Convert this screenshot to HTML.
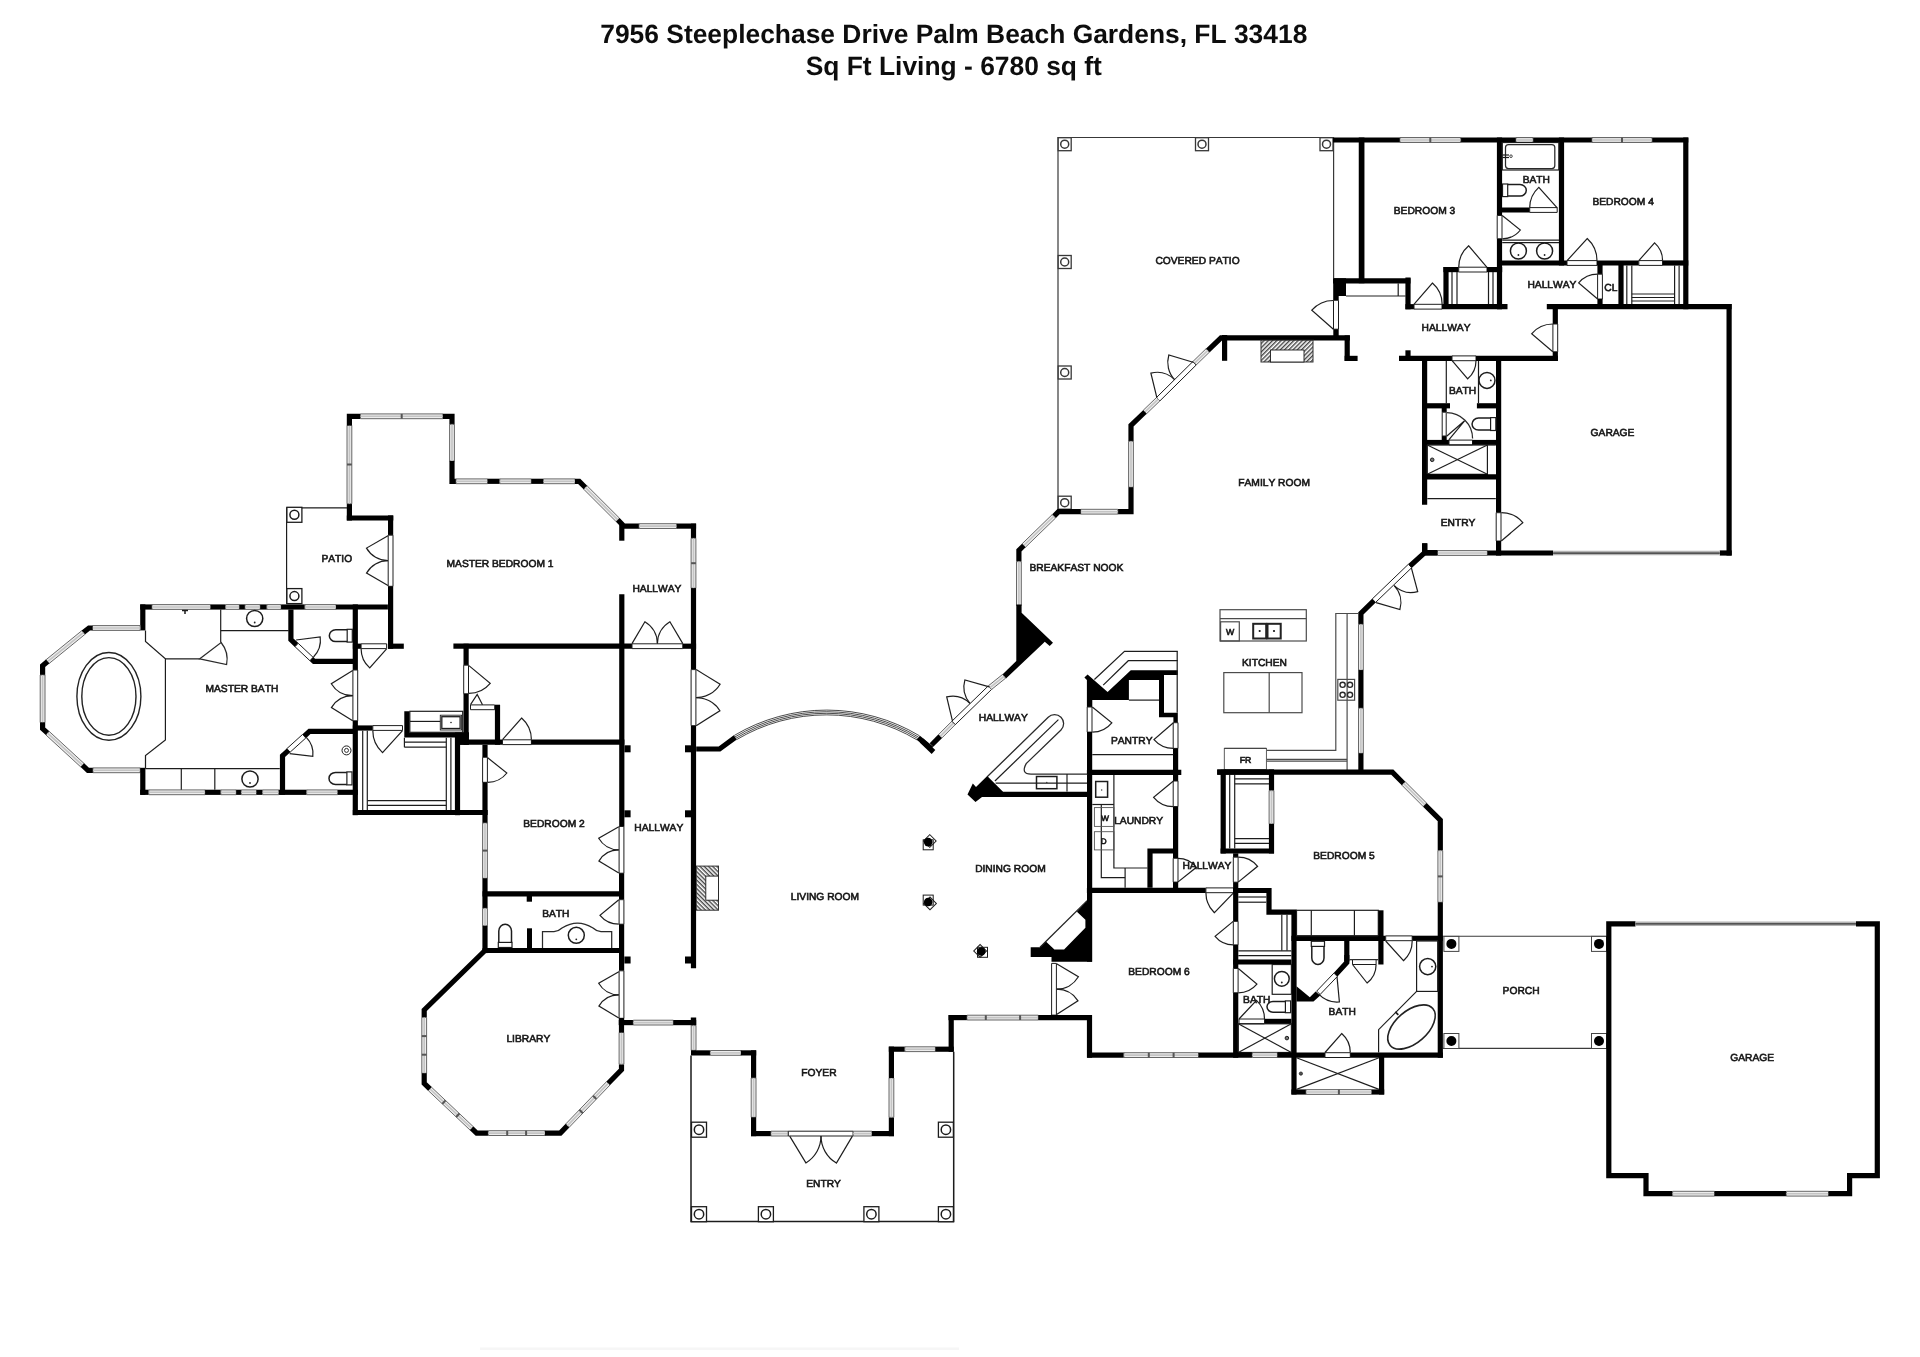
<!DOCTYPE html>
<html><head><meta charset="utf-8"><title>Floor plan</title>
<style>
html,body{margin:0;padding:0;background:#fff;}
body{width:1920px;height:1357px;overflow:hidden;font-family:"Liberation Sans",sans-serif;}
svg{display:block;}
svg text{font-family:"Liberation Sans",sans-serif;fill:#161616;stroke:#161616;stroke-width:0.6px;font-kerning:none;text-rendering:geometricPrecision;}
.w{fill:none;stroke:#000;stroke-linecap:butt;stroke-linejoin:miter;stroke-miterlimit:6;}
.t{fill:none;}
.title{font-weight:bold;stroke:none;fill:#111;}
</style></head><body>
<svg width="1920" height="1357" viewBox="0 0 1920 1357">
<defs>
<pattern id="h1" width="3" height="3" patternUnits="userSpaceOnUse" patternTransform="rotate(-45)"><rect width="3" height="3" fill="#fff"/><rect width="3" height="1.4" fill="#444"/></pattern>
<pattern id="h2" width="3" height="3" patternUnits="userSpaceOnUse" patternTransform="rotate(45)"><rect width="3" height="3" fill="#fff"/><rect width="3" height="1.4" fill="#444"/></pattern>
<filter id="nf" filterUnits="userSpaceOnUse" x="0" y="0" width="1920" height="1357"><feGaussianBlur stdDeviation="0.35"/></filter>
</defs>
<rect width="1920" height="1357" fill="#fff"/>
<g filter="url(#nf)">
<text class="title" x="953.8" y="43.2" font-size="26.4" text-anchor="middle">7956 Steeplechase Drive Palm Beach Gardens, FL 33418</text>
<text class="title" x="953.8" y="75.1" font-size="26.4" text-anchor="middle">Sq Ft Living - 6780 sq ft</text>
<rect x="480" y="1347.5" width="479" height="2.5" fill="#f6f6f6"/>
<polyline class="t" points="1333,137.5 1058,137.5 1058,509" stroke="#383838" stroke-width="1.2"/>
<polyline class="t" points="1333.6,137.5 1333.6,278" stroke="#383838" stroke-width="1.2"/>
<rect x="1058.2" y="137.7" width="13" height="13" fill="#fff" stroke="#383838" stroke-width="1.3"/>
<circle cx="1064.7" cy="144.2" r="4" fill="none" stroke="#383838" stroke-width="1.5"/>
<rect x="1195.5" y="137.7" width="13" height="13" fill="#fff" stroke="#383838" stroke-width="1.3"/>
<circle cx="1202" cy="144.2" r="4" fill="none" stroke="#383838" stroke-width="1.5"/>
<rect x="1320" y="137.7" width="13" height="13" fill="#fff" stroke="#383838" stroke-width="1.3"/>
<circle cx="1326.5" cy="144.2" r="4" fill="none" stroke="#383838" stroke-width="1.5"/>
<rect x="1058.2" y="255.5" width="13" height="13" fill="#fff" stroke="#383838" stroke-width="1.3"/>
<circle cx="1064.7" cy="262" r="4" fill="none" stroke="#383838" stroke-width="1.5"/>
<rect x="1058.2" y="366" width="13" height="13" fill="#fff" stroke="#383838" stroke-width="1.3"/>
<circle cx="1064.7" cy="372.5" r="4" fill="none" stroke="#383838" stroke-width="1.5"/>
<rect x="1058.2" y="496.2" width="13" height="13" fill="#fff" stroke="#383838" stroke-width="1.3"/>
<circle cx="1064.7" cy="502.7" r="4" fill="none" stroke="#383838" stroke-width="1.5"/>
<text transform="translate(1197.5 263.9) scale(1.005 1)" font-size="10.2" text-anchor="middle">COVERED PATIO</text>
<polyline class="w" points="1333,140 1688.3,140" stroke-width="5.2"/>
<polygon points="1400,142.4 1460.7,142.4 1460.7,137.6 1400,137.6" fill="#ececec" stroke="#585858" stroke-width="0.9"/>
<line x1="1400" y1="140" x2="1460.7" y2="140" stroke="#c4c4c4" stroke-width="1.6"/>
<polygon points="1429.3,142.4 1431.3,142.4 1431.3,137.6 1429.3,137.6" fill="#555"/>
<polygon points="1516,142.4 1533,142.4 1533,137.6 1516,137.6" fill="#ececec" stroke="#585858" stroke-width="0.9"/>
<line x1="1516" y1="140" x2="1533" y2="140" stroke="#c4c4c4" stroke-width="1.6"/>
<polygon points="1592,142.4 1652,142.4 1652,137.6 1592,137.6" fill="#ececec" stroke="#585858" stroke-width="0.9"/>
<line x1="1592" y1="140" x2="1652" y2="140" stroke="#c4c4c4" stroke-width="1.6"/>
<polygon points="1621,142.4 1623,142.4 1623,137.6 1621,137.6" fill="#555"/>
<polyline class="w" points="1361.6,137.5 1361.6,283.3" stroke-width="5.7"/>
<polyline class="w" points="1333,280.8 1410.5,280.8" stroke-width="5.2"/>
<polygon points="1333.2,278.2 1346,278.2 1346,296 1338.7,296 1338.7,300.3 1333.2,300.3" fill="#000"/>
<polyline class="t" points="1346,296 1405.5,296" stroke="#1e1e1e" stroke-width="1.2"/>
<polyline class="t" points="1398.2,283.2 1398.2,296" stroke="#1e1e1e" stroke-width="1.2"/>
<polyline class="w" points="1408,277.5 1408,309.3" stroke-width="5.2"/>
<polygon points="1333.5,300.3 1333.5,329.2 1338.5,329.2 1338.5,300.3" fill="#fff" stroke="#1e1e1e" stroke-width="1"/>
<path class="t" d="M1333.4 329.3L1311.8 310.2A28.8 28.8 0 0 1 1333.4 300.5" stroke="#1e1e1e" stroke-width="1.2"/>
<polyline class="w" points="1336,329.2 1336,340" stroke-width="5.4"/>
<polyline class="w" points="1349.9,337.9 1221,337.9 1207.7,350.7" stroke-width="5.2"/>
<polygon points="1206,348.8 1192.8,361.6 1196.2,365 1209.4,352.2" fill="#ececec" stroke="#585858" stroke-width="0.9"/>
<line x1="1207.7" y1="350.5" x2="1194.5" y2="363.3" stroke="#c4c4c4" stroke-width="1.6"/>
<polygon points="1192.8,361.6 1156.5,397.5 1159.9,400.9 1196.2,365" fill="#fff" stroke="#1e1e1e" stroke-width="1"/>
<polygon points="1156.5,397.5 1143.2,410.3 1146.6,413.7 1159.9,400.9" fill="#ececec" stroke="#585858" stroke-width="0.9"/>
<line x1="1158.2" y1="399.2" x2="1144.9" y2="412" stroke="#c4c4c4" stroke-width="1.6"/>
<polyline class="w" points="1144.9,412 1131,425.4 1131,441.3" stroke-width="5.2"/>
<polygon points="1128.6,441.3 1128.6,487.2 1133.4,487.2 1133.4,441.3" fill="#ececec" stroke="#585858" stroke-width="0.9"/>
<line x1="1131" y1="441.3" x2="1131" y2="487.2" stroke="#c4c4c4" stroke-width="1.6"/>
<polyline class="w" points="1131,487.2 1131,511.7 1117.8,511.7" stroke-width="5.2"/>
<polygon points="1080.7,514.1 1117.8,514.1 1117.8,509.3 1080.7,509.3" fill="#ececec" stroke="#585858" stroke-width="0.9"/>
<line x1="1080.7" y1="511.7" x2="1117.8" y2="511.7" stroke="#c4c4c4" stroke-width="1.6"/>
<polyline class="w" points="1080.7,511.7 1058.5,511.7 1053.9,516.3" stroke-width="5.2"/>
<polygon points="1052.2,514.6 1022.1,543.8 1025.5,547.2 1055.6,518" fill="#ececec" stroke="#585858" stroke-width="0.9"/>
<line x1="1053.9" y1="516.3" x2="1023.8" y2="545.5" stroke="#c4c4c4" stroke-width="1.6"/>
<polyline class="w" points="1023.8,545.5 1018.9,550.3 1018.9,561.6" stroke-width="5.2"/>
<polygon points="1016.5,561.6 1016.5,605.5 1021.3,605.5 1021.3,561.6" fill="#ececec" stroke="#585858" stroke-width="0.9"/>
<line x1="1018.9" y1="561.6" x2="1018.9" y2="605.5" stroke="#c4c4c4" stroke-width="1.6"/>
<path class="t" d="M1156.9 397.8L1150.9 373.1A25.4 25.4 0 0 1 1174.6 379.6" stroke="#1e1e1e" stroke-width="1.2"/>
<path class="t" d="M1193.1 362.3L1168.8 355A25.3 25.3 0 0 0 1174.6 379.6" stroke="#1e1e1e" stroke-width="1.2"/>
<polyline class="w" points="1347.2,335.4 1347.2,360.9" stroke-width="5.2"/>
<polyline class="w" points="1344.6,358.4 1357.6,358.4" stroke-width="5.2"/>
<polyline class="w" points="1224.6,335 1224.6,360.8" stroke-width="5.2"/>
<rect x="1261" y="340.2" width="52" height="21.8" fill="url(#h1)" stroke="#333" stroke-width="1"/>
<rect x="1270.5" y="350" width="33.5" height="12" fill="#fff" stroke="#1e1e1e" stroke-width="0.9"/>
<polygon points="1016.3,604.4 1021.6,604.4 1021.6,612.8 1053,642.7 1049.7,646.1 1044.8,641.8 1006,678.4 1002.2,674.7 1016.3,660.9" fill="#000"/>
<polyline class="w" points="1405.4,306.7 1414,306.7" stroke-width="5.2"/>
<polygon points="1414,309.1 1442,309.1 1442,304.3 1414,304.3" fill="#fff" stroke="#1e1e1e" stroke-width="1"/>
<polyline class="w" points="1442,306.7 1507.5,306.7" stroke-width="5.2"/>
<path class="t" d="M1413.9 304.4L1432.4 283A28.3 28.3 0 0 1 1442.2 304.4" stroke="#1e1e1e" stroke-width="1.2"/>
<polyline class="w" points="1446,267 1446,306.7" stroke-width="5.2"/>
<polyline class="w" points="1443.4,269.6 1458.7,269.6" stroke-width="5.2"/>
<polygon points="1458.7,272 1487,272 1487,267.2 1458.7,267.2" fill="#fff" stroke="#1e1e1e" stroke-width="1"/>
<polyline class="w" points="1487,269.6 1502.2,269.6" stroke-width="5.2"/>
<path class="t" d="M1487 267.4L1468.7 245.8A28.3 28.3 0 0 0 1458.7 267.4" stroke="#1e1e1e" stroke-width="1.2"/>
<polyline class="t" points="1452,272 1452,304.2" stroke="#1e1e1e" stroke-width="1.2"/>
<polyline class="t" points="1457,272 1457,304.2" stroke="#1e1e1e" stroke-width="1.2"/>
<polyline class="t" points="1488.5,272 1488.5,304.2" stroke="#1e1e1e" stroke-width="1.2"/>
<polyline class="t" points="1493,272 1493,304.2" stroke="#1e1e1e" stroke-width="1.2"/>
<polyline class="w" points="1499.5,137.5 1499.5,215.5" stroke-width="5.2"/>
<polygon points="1497.2,215.5 1497.2,238.8 1502,238.8 1502,215.5" fill="#fff" stroke="#1e1e1e" stroke-width="1"/>
<polyline class="w" points="1499.5,238.8 1499.5,309.3" stroke-width="5.2"/>
<path class="t" d="M1502.2 215.5L1520.4 230A23.3 23.3 0 0 1 1502.2 238.8" stroke="#1e1e1e" stroke-width="1.2"/>
<polyline class="w" points="1561.5,137.5 1561.5,265.5" stroke-width="5.2"/>
<polyline class="w" points="1685.8,137.5 1685.8,309.3" stroke-width="5.2"/>
<polyline class="w" points="1497,210 1529.7,210" stroke-width="5.2"/>
<polygon points="1529.7,212.4 1557.2,212.4 1557.2,207.6 1529.7,207.6" fill="#fff" stroke="#1e1e1e" stroke-width="1"/>
<path class="t" d="M1557.2 207.8L1538.8 187.4A27.5 27.5 0 0 0 1529.7 207.8" stroke="#1e1e1e" stroke-width="1.2"/>
<rect x="1502.3" y="142.5" width="56.5" height="27.5" fill="none" stroke="#1e1e1e" stroke-width="1.2"/>
<rect x="1505.5" y="144.5" width="49.3" height="24" rx="3" fill="none" stroke="#2a2a2a" stroke-width="1.25"/>
<circle cx="1511" cy="156.2" r="1.3" fill="none" stroke="#1e1e1e" stroke-width="0.8"/>
<polyline class="t" points="1502.5,155 1509,155" stroke="#1e1e1e" stroke-width="1.2"/>
<polyline class="t" points="1502.5,157.5 1509,157.5" stroke="#1e1e1e" stroke-width="1.2"/>
<text transform="translate(1536.3 183.2) scale(1.005 1)" font-size="10.2" text-anchor="middle">BATH</text>
<rect x="1502.5" y="184" width="5.2" height="12.6" fill="none" stroke="#1e1e1e" stroke-width="1.2"/>
<path class="t" d="M1507.7 184.5H1520A6.3 5.8 0 0 1 1520 196.1H1507.7" stroke="#1e1e1e" stroke-width="1.5"/>
<polyline class="t" points="1502.2,240.2 1559,240.2" stroke="#1e1e1e" stroke-width="1.2"/>
<polyline class="t" points="1502.2,242.6 1559,242.6" stroke="#1e1e1e" stroke-width="1.2"/>
<circle cx="1518.4" cy="251" r="8" fill="none" stroke="#1e1e1e" stroke-width="1.5"/>
<circle cx="1518.4" cy="255" r="0.9" fill="#222" stroke="#1e1e1e" stroke-width="0"/>
<circle cx="1544.6" cy="251" r="8" fill="none" stroke="#1e1e1e" stroke-width="1.5"/>
<circle cx="1544.6" cy="255" r="0.9" fill="#222" stroke="#1e1e1e" stroke-width="0"/>
<polyline class="w" points="1497,263 1567,263" stroke-width="5.2"/>
<polygon points="1567,265.4 1597,265.4 1597,260.6 1567,260.6" fill="#fff" stroke="#1e1e1e" stroke-width="1"/>
<polyline class="w" points="1597,263 1638.8,263" stroke-width="5.2"/>
<polygon points="1638.8,265.4 1662.6,265.4 1662.6,260.6 1638.8,260.6" fill="#fff" stroke="#1e1e1e" stroke-width="1"/>
<polyline class="w" points="1662.6,263 1688.3,263" stroke-width="5.2"/>
<path class="t" d="M1567.1 260.7L1587.2 238.5A29.9 29.9 0 0 1 1597 260.7" stroke="#1e1e1e" stroke-width="1.2"/>
<path class="t" d="M1638.8 260.7L1654.6 242.9A23.8 23.8 0 0 1 1662.6 260.7" stroke="#1e1e1e" stroke-width="1.2"/>
<text transform="translate(1623.1 205) scale(1.005 1)" font-size="10.2" text-anchor="middle">BEDROOM 4</text>
<text transform="translate(1424.5 213.9) scale(1.005 1)" font-size="10.2" text-anchor="middle">BEDROOM 3</text>
<polyline class="w" points="1600,263 1600,274.2" stroke-width="5.2"/>
<polygon points="1597.6,274.2 1597.6,299 1602.4,299 1602.4,274.2" fill="#fff" stroke="#1e1e1e" stroke-width="1"/>
<polyline class="w" points="1600,299 1600,306.7" stroke-width="5.2"/>
<path class="t" d="M1597.6 299L1578.7 282.9A24.8 24.8 0 0 1 1597.6 274.2" stroke="#1e1e1e" stroke-width="1.2"/>
<polyline class="w" points="1621,263 1621,306.7" stroke-width="5.2"/>
<text transform="translate(1551.9 288.1) scale(1.005 1)" font-size="10.2" text-anchor="middle">HALLWAY</text>
<text transform="translate(1610.9 291.4) scale(1.005 1)" font-size="10.2" text-anchor="middle">CL</text>
<polyline class="t" points="1626.8,265.5 1626.8,304.2" stroke="#1e1e1e" stroke-width="1.2"/>
<polyline class="t" points="1631.8,265.5 1631.8,304.2" stroke="#1e1e1e" stroke-width="1.2"/>
<polyline class="t" points="1674.6,265.5 1674.6,304.2" stroke="#1e1e1e" stroke-width="1.2"/>
<polyline class="t" points="1679.1,265.5 1679.1,304.2" stroke="#1e1e1e" stroke-width="1.2"/>
<polyline class="t" points="1631.8,294 1674.6,294" stroke="#1e1e1e" stroke-width="1.2"/>
<polyline class="t" points="1631.8,297.5 1674.6,297.5" stroke="#1e1e1e" stroke-width="1.2"/>
<polyline class="t" points="1631.8,301 1674.6,301" stroke="#1e1e1e" stroke-width="1.2"/>
<polyline class="w" points="1546.8,306.7 1731.6,306.7" stroke-width="5.2"/>
<polyline class="w" points="1729.1,304.1 1729.1,555.6" stroke-width="5.2"/>
<polyline class="w" points="1555.3,304.1 1555.3,324" stroke-width="5.2"/>
<polygon points="1552.9,324 1552.9,351.8 1557.7,351.8 1557.7,324" fill="#fff" stroke="#1e1e1e" stroke-width="1"/>
<polyline class="w" points="1555.3,351.8 1555.3,360.9" stroke-width="5.2"/>
<path class="t" d="M1552.8 351.8L1531.6 333.8A27.8 27.8 0 0 1 1552.8 324" stroke="#1e1e1e" stroke-width="1.2"/>
<polyline class="w" points="1399,358.3 1452,358.3" stroke-width="5.2"/>
<polygon points="1452,360.7 1476,360.7 1476,355.9 1452,355.9" fill="#fff" stroke="#1e1e1e" stroke-width="1"/>
<polyline class="w" points="1476,358.3 1557.9,358.3" stroke-width="5.2"/>
<polyline class="w" points="1408,350.3 1408,358.3" stroke-width="5.2"/>
<path class="t" d="M1452.1 360.7L1467.7 378.8A23.9 23.9 0 0 0 1476 360.7" stroke="#1e1e1e" stroke-width="1.2"/>
<text transform="translate(1446 331.3) scale(1.005 1)" font-size="10.2" text-anchor="middle">HALLWAY</text>
<polyline class="w" points="1424.6,358 1424.6,504.8" stroke-width="5.2"/>
<polyline class="w" points="1498.6,358 1498.6,512.7" stroke-width="5.2"/>
<polygon points="1496.2,512.7 1496.2,541 1501,541 1501,512.7" fill="#fff" stroke="#1e1e1e" stroke-width="1"/>
<polyline class="w" points="1498.6,541 1498.6,555.6" stroke-width="5.2"/>
<path class="t" d="M1501.3 541L1522.8 522.6A28.3 28.3 0 0 0 1501.3 512.7" stroke="#1e1e1e" stroke-width="1.2"/>
<polyline class="w" points="1424.6,405.8 1450,405.8" stroke-width="5.2"/>
<polyline class="w" points="1476.9,405.8 1498.6,405.8" stroke-width="5.2"/>
<polyline class="t" points="1446.3,361 1446.3,403.3" stroke="#1e1e1e" stroke-width="1.2"/>
<polyline class="t" points="1478.5,361 1478.5,403.3" stroke="#1e1e1e" stroke-width="1.2"/>
<circle cx="1487" cy="380.4" r="8" fill="none" stroke="#1e1e1e" stroke-width="1.5"/>
<circle cx="1490.8" cy="380.4" r="0.9" fill="#222" stroke="#1e1e1e" stroke-width="0"/>
<text transform="translate(1462.6 393.7) scale(1.005 1)" font-size="10.2" text-anchor="middle">BATH</text>
<polygon points="1441.7,408 1446.7,408 1446.7,412.2 1441.7,412.2" fill="#000"/>
<polygon points="1441.7,436 1446.7,436 1446.7,440.5 1441.7,440.5" fill="#000"/>
<polygon points="1442.2,412.2 1442.2,436 1446.2,436 1446.2,412.2" fill="#fff" stroke="#1e1e1e" stroke-width="1"/>
<path class="t" d="M1446.7 412.6A26 26 0 0 1 1472.6 438.5" stroke="#2a2a2a" stroke-width="1.25"/>
<polyline class="t" points="1446.6,436.2 1464.6,420.8 1448.8,439.8" stroke="#1e1e1e" stroke-width="1.2"/>
<polyline class="w" points="1424.6,442.5 1449,442.5" stroke-width="5.2"/>
<polygon points="1449,444.9 1472.5,444.9 1472.5,440.1 1449,440.1" fill="#fff" stroke="#1e1e1e" stroke-width="1"/>
<polyline class="w" points="1472.5,442.5 1498.6,442.5" stroke-width="5.2"/>
<rect x="1490.6" y="417.6" width="5.2" height="12.9" fill="none" stroke="#1e1e1e" stroke-width="1.2"/>
<path class="t" d="M1490.6 418.1H1478.5A6.4 5.9 0 0 0 1478.5 430H1490.6" stroke="#1e1e1e" stroke-width="1.5"/>
<rect x="1427.3" y="445" width="60.1" height="29.3" fill="none" stroke="#1e1e1e" stroke-width="1.2"/>
<polyline class="t" points="1427.3,445 1487.4,474.3" stroke="#1e1e1e" stroke-width="1.2"/>
<polyline class="t" points="1427.3,474.3 1487.4,445" stroke="#1e1e1e" stroke-width="1.2"/>
<circle cx="1432.2" cy="459.8" r="1.8" fill="#777" stroke="#1e1e1e" stroke-width="1"/>
<polyline class="t" points="1487.4,445 1495.8,445" stroke="#1e1e1e" stroke-width="1.2"/>
<polyline class="w" points="1424.6,476.9 1498.6,476.9" stroke-width="5.2"/>
<polyline class="t" points="1427.3,498.6 1495.8,498.6" stroke="#1e1e1e" stroke-width="1.2"/>
<text transform="translate(1458.1 525.9) scale(1.005 1)" font-size="10.2" text-anchor="middle">ENTRY</text>
<text transform="translate(1612.5 435.9) scale(1.005 1)" font-size="10.2" text-anchor="middle">GARAGE</text>
<polyline class="w" points="1424.6,543.3 1424.6,553" stroke-width="5.2"/>
<polyline class="w" points="1422,553 1437.5,553" stroke-width="5.2"/>
<polygon points="1437.5,555.4 1487.4,555.4 1487.4,550.6 1437.5,550.6" fill="#ececec" stroke="#585858" stroke-width="0.9"/>
<line x1="1437.5" y1="553" x2="1487.4" y2="553" stroke="#c4c4c4" stroke-width="1.6"/>
<polyline class="w" points="1487.4,553 1553.1,553" stroke-width="5.2"/>
<polyline class="w" points="1719.8,553 1731.7,553" stroke-width="5.2"/>
<polyline class="t" points="1553.1,553 1719.8,553" stroke="#b4b4b4" stroke-width="4.6"/>
<polyline class="t" points="1553.1,553.2 1719.8,553.2" stroke="#333" stroke-width="1.3"/>
<polyline class="w" points="1437.5,552.6 1424.8,552.6 1410,566" stroke-width="5.2"/>
<polygon points="1408.3,564.3 1372.2,599 1375.6,602.4 1411.7,567.7" fill="#fff" stroke="#1e1e1e" stroke-width="1"/>
<polyline class="w" points="1373.9,600.7 1360.9,613.3 1360.9,624.3" stroke-width="5.2"/>
<polyline class="w" points="1424.8,543.3 1424.8,553" stroke-width="5.2"/>
<path class="t" d="M1411.3 567.6L1417.7 591.6A24.8 24.8 0 0 1 1394.2 585.6" stroke="#1e1e1e" stroke-width="1.2"/>
<path class="t" d="M1376.1 602.6L1399.9 609.6A24.8 24.8 0 0 0 1394.2 585.6" stroke="#1e1e1e" stroke-width="1.2"/>
<polygon points="1358.5,624.3 1358.5,670.1 1363.3,670.1 1363.3,624.3" fill="#ececec" stroke="#585858" stroke-width="0.9"/>
<line x1="1360.9" y1="624.3" x2="1360.9" y2="670.1" stroke="#c4c4c4" stroke-width="1.6"/>
<polyline class="w" points="1360.9,670.1 1360.9,708.2" stroke-width="5.2"/>
<polygon points="1358.5,708.2 1358.5,753.3 1363.3,753.3 1363.3,708.2" fill="#ececec" stroke="#585858" stroke-width="0.9"/>
<line x1="1360.9" y1="708.2" x2="1360.9" y2="753.3" stroke="#c4c4c4" stroke-width="1.6"/>
<polyline class="w" points="1360.9,753.3 1360.9,772.2" stroke-width="5.2"/>
<rect x="1220" y="609.7" width="86.3" height="31.3" fill="none" stroke="#4c4c4c" stroke-width="1.2"/>
<polyline class="t" points="1220,618.7 1306.3,618.7" stroke="#4c4c4c" stroke-width="1.2"/>
<rect x="1220.6" y="621.8" width="18.7" height="19.2" fill="none" stroke="#4c4c4c" stroke-width="1.2"/>
<text transform="translate(1230 635) scale(1.005 1)" font-size="8.7" text-anchor="middle">W</text>
<rect x="1253.2" y="623.8" width="13" height="14.7" fill="none" stroke="#202020" stroke-width="2"/>
<rect x="1267.5" y="623.8" width="13.2" height="14.7" fill="none" stroke="#202020" stroke-width="2"/>
<circle cx="1259.7" cy="631" r="1.1" fill="#111" stroke="#4c4c4c" stroke-width="0"/>
<circle cx="1274" cy="631" r="1.1" fill="#111" stroke="#4c4c4c" stroke-width="0"/>
<text transform="translate(1264.5 665.6) scale(1.005 1)" font-size="10.2" text-anchor="middle">KITCHEN</text>
<text transform="translate(1274.1 486.1) scale(1.005 1)" font-size="10.2" text-anchor="middle">FAMILY ROOM</text>
<text transform="translate(1076.4 571.3) scale(1.005 1)" font-size="10.2" text-anchor="middle">BREAKFAST NOOK</text>
<rect x="1223.8" y="672.6" width="78.2" height="40.1" fill="none" stroke="#4c4c4c" stroke-width="1.2"/>
<polyline class="t" points="1269.2,672.6 1269.2,712.7" stroke="#4c4c4c" stroke-width="1.2"/>
<polyline class="t" points="1358.3,613.5 1335.8,613.5 1335.8,750.3 1266.9,750.3" stroke="#4c4c4c" stroke-width="1.2"/>
<polyline class="t" points="1347.1,613.5 1347.1,770" stroke="#4c4c4c" stroke-width="1.2"/>
<polyline class="t" points="1266.4,759.4 1347.1,759.4" stroke="#4c4c4c" stroke-width="1.2"/>
<polyline class="t" points="1266.4,761.2 1347.1,761.2" stroke="#4c4c4c" stroke-width="1.2"/>
<rect x="1337.8" y="679.4" width="16.8" height="20.8" fill="none" stroke="#4c4c4c" stroke-width="1.2"/>
<circle cx="1342.6" cy="684.8" r="2.6" fill="none" stroke="#2a2a2a" stroke-width="1.4"/>
<circle cx="1350" cy="684.8" r="2.6" fill="none" stroke="#2a2a2a" stroke-width="1.4"/>
<circle cx="1342.6" cy="694.8" r="2.6" fill="none" stroke="#2a2a2a" stroke-width="1.4"/>
<circle cx="1350" cy="694.8" r="2.6" fill="none" stroke="#2a2a2a" stroke-width="1.4"/>
<rect x="1224.3" y="748.4" width="42.1" height="21.3" fill="#fff" stroke="#4c4c4c" stroke-width="0.9"/>
<polyline class="t" points="1224.3,748.4 1266.4,748.4" stroke="#444" stroke-width="1.4"/>
<text transform="translate(1245.6 763.4) scale(1.005 1)" font-size="8.7" text-anchor="middle">FR</text>
<polygon points="1084.4,677.6 1087.6,674.4 1107.6,692 1130.8,670.3 1177.8,670.3 1177.8,675.1 1164,675.1 1164,712.7 1177.8,712.7 1177.8,722.7 1173.4,722.7 1173.4,717.2 1159,717.2 1159,680.1 1128.9,680.1 1128.9,700.1 1092.3,700.1 1092.3,707 1086.9,707 1086.9,680.1" fill="#000"/>
<polyline class="t" points="1128.9,700.1 1159,700.1" stroke="#1e1e1e" stroke-width="1.2"/>
<polyline class="t" points="1177.2,651.3 1177.2,712.7" stroke="#1e1e1e" stroke-width="1.2"/>
<polyline class="t" points="1177.8,651.3 1124.5,651.3 1094.4,679.5" stroke="#1e1e1e" stroke-width="1.2"/>
<polyline class="t" points="1177.8,660.7 1128.3,660.7 1103.2,685.1" stroke="#1e1e1e" stroke-width="1.2"/>
<polygon points="1087.2,707 1087.2,732.1 1092,732.1 1092,707" fill="#fff" stroke="#1e1e1e" stroke-width="1"/>
<polyline class="w" points="1089.6,732.1 1089.6,961.7" stroke-width="5.2"/>
<path class="t" d="M1092.3 707L1111.8 722.8A25.1 25.1 0 0 1 1092.3 732.1" stroke="#1e1e1e" stroke-width="1.2"/>
<polygon points="1173.2,722.7 1173.2,748.4 1178,748.4 1178,722.7" fill="#fff" stroke="#1e1e1e" stroke-width="1"/>
<polyline class="w" points="1175.6,748.4 1175.6,781" stroke-width="5.2"/>
<path class="t" d="M1173.4 722.7L1154 739.6A25.7 25.7 0 0 0 1173.4 748.4" stroke="#1e1e1e" stroke-width="1.2"/>
<polyline class="t" points="1092.3,754.6 1173.4,754.6" stroke="#1e1e1e" stroke-width="1.2"/>
<polyline class="w" points="1086.9,772.3 1181.3,772.3" stroke-width="5.2"/>
<text transform="translate(1131.7 743.6) scale(1.005 1)" font-size="10.2" text-anchor="middle">PANTRY</text>
<polygon points="1173.2,781 1173.2,806.6 1178,806.6 1178,781" fill="#fff" stroke="#1e1e1e" stroke-width="1"/>
<polyline class="w" points="1175.6,806.6 1175.6,858.3" stroke-width="5.2"/>
<polygon points="1173.2,858.3 1173.2,882.1 1178,882.1 1178,858.3" fill="#fff" stroke="#1e1e1e" stroke-width="1"/>
<polyline class="w" points="1175.6,882.1 1175.6,892.9" stroke-width="5.2"/>
<path class="t" d="M1173.4 781L1153.6 797.3A25.6 25.6 0 0 0 1173.4 806.6" stroke="#1e1e1e" stroke-width="1.2"/>
<path class="t" d="M1177.8 882.1L1196.4 867.3A23.8 23.8 0 0 0 1177.8 858.3" stroke="#1e1e1e" stroke-width="1.2"/>
<polyline class="w" points="1173.4,851 1150,851 1150,887.8" stroke-width="5.2"/>
<polyline class="w" points="1086.9,890.3 1205.9,890.3" stroke-width="5.2"/>
<polygon points="1205.9,892.7 1233.5,892.7 1233.5,887.9 1205.9,887.9" fill="#fff" stroke="#1e1e1e" stroke-width="1"/>
<path class="t" d="M1233.5 892.8L1214.4 912.7A27.6 27.6 0 0 1 1205.9 892.8" stroke="#1e1e1e" stroke-width="1.2"/>
<polyline class="w" points="1233.2,890.5 1269,890.5 1269,912.2 1294,912.2 1294,1094.5" stroke-width="5.2"/>
<rect x="1095.7" y="781.5" width="11.9" height="15.7" fill="none" stroke="#1e1e1e" stroke-width="1.5"/>
<circle cx="1101.7" cy="790" r="0.7" fill="#333" stroke="#1e1e1e" stroke-width="0"/>
<polyline class="t" points="1113.9,775 1113.9,868 1147.4,868" stroke="#1e1e1e" stroke-width="1.2"/>
<polyline class="t" points="1101.3,804.5 1101.3,877.7 1125.1,877.7" stroke="#1e1e1e" stroke-width="1.2"/>
<polyline class="t" points="1125.1,868 1125.1,887.8" stroke="#1e1e1e" stroke-width="1.2"/>
<polyline class="t" points="1092.3,804.5 1113.9,804.5" stroke="#1e1e1e" stroke-width="1.2"/>
<rect x="1094.4" y="807.6" width="19.5" height="18.8" fill="none" stroke="#555" stroke-width="0.9"/>
<rect x="1094.4" y="831.7" width="19.5" height="18.2" fill="none" stroke="#555" stroke-width="0.9"/>
<text transform="translate(1105.2 820.6) scale(1.005 1)" font-size="8.1" text-anchor="middle">W</text>
<text transform="translate(1103.8 844.4) scale(1.005 1)" font-size="8.1" text-anchor="middle">D</text>
<text transform="translate(1138.6 824.2) scale(1.005 1)" font-size="10.2" text-anchor="middle">LAUNDRY</text>
<text transform="translate(1206.9 869.2) scale(1.005 1)" font-size="10.2" text-anchor="middle">HALLWAY</text>
<polyline class="w" points="1217.2,772.2 1274,772.2" stroke-width="5.2"/>
<polyline class="w" points="1223.2,769.6 1223.2,853.5" stroke-width="5.2"/>
<polyline class="w" points="1220.6,851 1274,851" stroke-width="5.2"/>
<polyline class="w" points="1271.5,769.6 1271.5,790.7" stroke-width="5.2"/>
<polygon points="1269.1,790.7 1269.1,823.9 1273.9,823.9 1273.9,790.7" fill="#ececec" stroke="#585858" stroke-width="0.9"/>
<line x1="1271.5" y1="790.7" x2="1271.5" y2="823.9" stroke="#c4c4c4" stroke-width="1.6"/>
<polyline class="w" points="1271.5,823.9 1271.5,853.5" stroke-width="5.2"/>
<polyline class="t" points="1229.7,774.8 1229.7,848.5" stroke="#1e1e1e" stroke-width="1.2"/>
<polyline class="t" points="1234.7,774.8 1234.7,848.5" stroke="#1e1e1e" stroke-width="1.2"/>
<polyline class="t" points="1234.7,778.8 1269,778.8" stroke="#1e1e1e" stroke-width="1.2"/>
<polyline class="t" points="1234.7,783.8 1269,783.8" stroke="#1e1e1e" stroke-width="1.2"/>
<polyline class="t" points="1234.7,838.7 1269,838.7" stroke="#1e1e1e" stroke-width="1.2"/>
<polyline class="t" points="1234.7,843.3 1269,843.3" stroke="#1e1e1e" stroke-width="1.2"/>
<polyline class="w" points="1217.2,772.2 1392.3,772.2 1403.6,783.5" stroke-width="5.2"/>
<polygon points="1401.9,785.2 1423.2,806.5 1426.6,803.1 1405.3,781.8" fill="#ececec" stroke="#585858" stroke-width="0.9"/>
<line x1="1403.6" y1="783.5" x2="1424.9" y2="804.8" stroke="#c4c4c4" stroke-width="1.6"/>
<polyline class="w" points="1424.9,804.8 1440.3,820.2 1440.3,850.6" stroke-width="5.2"/>
<polygon points="1437.9,850.6 1437.9,902.2 1442.7,902.2 1442.7,850.6" fill="#ececec" stroke="#585858" stroke-width="0.9"/>
<line x1="1440.3" y1="850.6" x2="1440.3" y2="902.2" stroke="#c4c4c4" stroke-width="1.6"/>
<polygon points="1437.9,875.4 1437.9,877.4 1442.7,877.4 1442.7,875.4" fill="#555"/>
<polyline class="w" points="1440.3,902.2 1440.3,1057.8" stroke-width="5.2"/>
<polyline class="w" points="1235.7,853.3 1235.7,857.2" stroke-width="5.2"/>
<polygon points="1233.3,857.2 1233.3,882.2 1238.1,882.2 1238.1,857.2" fill="#fff" stroke="#1e1e1e" stroke-width="1"/>
<polyline class="w" points="1235.7,882.2 1235.7,921.4" stroke-width="5.2"/>
<polygon points="1233.3,921.4 1233.3,944.9 1238.1,944.9 1238.1,921.4" fill="#fff" stroke="#1e1e1e" stroke-width="1"/>
<polyline class="w" points="1235.7,944.9 1235.7,968.5" stroke-width="5.2"/>
<polygon points="1233.3,968.5 1233.3,992.8 1238.1,992.8 1238.1,968.5" fill="#fff" stroke="#1e1e1e" stroke-width="1"/>
<polyline class="w" points="1235.7,992.8 1235.7,1057.8" stroke-width="5.2"/>
<path class="t" d="M1238.2 882.1L1257.6 866.3A25 25 0 0 0 1238.2 857.1" stroke="#1e1e1e" stroke-width="1.2"/>
<path class="t" d="M1233.2 921.4L1215.1 936.4A23.5 23.5 0 0 0 1233.2 944.9" stroke="#1e1e1e" stroke-width="1.2"/>
<path class="t" d="M1238.3 968.5L1256.9 984.1A24.3 24.3 0 0 1 1238.3 992.8" stroke="#1e1e1e" stroke-width="1.2"/>
<text transform="translate(1344 858.9) scale(1.005 1)" font-size="10.2" text-anchor="middle">BEDROOM 5</text>
<text transform="translate(1159 974.9) scale(1.005 1)" font-size="10.2" text-anchor="middle">BEDROOM 6</text>
<text transform="translate(1010.4 872) scale(1.005 1)" font-size="10.2" text-anchor="middle">DINING ROOM</text>
<polyline class="w" points="1291.4,938.3 1385.7,938.3" stroke-width="5.2"/>
<polygon points="1385.7,940.7 1412.2,940.7 1412.2,935.9 1385.7,935.9" fill="#fff" stroke="#1e1e1e" stroke-width="1"/>
<polyline class="w" points="1412.2,938.3 1442.9,938.3" stroke-width="5.2"/>
<path class="t" d="M1385.7 941L1403.5 960.7A26.5 26.5 0 0 0 1412.2 941" stroke="#1e1e1e" stroke-width="1.2"/>
<rect x="1296.5" y="910.3" width="81.8" height="25.4" fill="none" stroke="#1e1e1e" stroke-width="1.2"/>
<polyline class="t" points="1311.3,910.3 1311.3,935.7" stroke="#1e1e1e" stroke-width="1.2"/>
<polyline class="t" points="1354.4,910.3 1354.4,935.7" stroke="#1e1e1e" stroke-width="1.2"/>
<polyline class="w" points="1380.9,910.3 1380.9,964.5" stroke-width="5.2"/>
<polyline class="w" points="1233.2,962 1291.4,962" stroke-width="5.2"/>
<polyline class="t" points="1238.3,897 1266.3,897" stroke="#1e1e1e" stroke-width="1.2"/>
<polyline class="t" points="1238.3,902.2 1266.3,902.2" stroke="#1e1e1e" stroke-width="1.2"/>
<polyline class="t" points="1281.8,914.7 1281.8,950.8" stroke="#1e1e1e" stroke-width="1.2"/>
<polyline class="t" points="1287,914.7 1287,950.8" stroke="#1e1e1e" stroke-width="1.2"/>
<polyline class="t" points="1238.3,950.8 1291.4,950.8" stroke="#1e1e1e" stroke-width="1.2"/>
<polyline class="t" points="1238.3,955.6 1291.4,955.6" stroke="#1e1e1e" stroke-width="1.2"/>
<polyline class="w" points="1264.5,1021.4 1291.4,1021.4" stroke-width="5.2"/>
<polygon points="1239,1023.8 1264.5,1023.8 1264.5,1019 1239,1019" fill="#fff" stroke="#1e1e1e" stroke-width="1"/>
<path class="t" d="M1239 1019L1256.5 1000.4A25.5 25.5 0 0 1 1264.5 1019" stroke="#1e1e1e" stroke-width="1.2"/>
<rect x="1272.2" y="964.5" width="19.2" height="29.8" fill="none" stroke="#1e1e1e" stroke-width="1.2"/>
<circle cx="1281.8" cy="978.8" r="7.4" fill="none" stroke="#1e1e1e" stroke-width="1.5"/>
<circle cx="1281.8" cy="982.5" r="0.9" fill="#222" stroke="#1e1e1e" stroke-width="0"/>
<rect x="1285.4" y="1000.9" width="5.2" height="11.8" fill="none" stroke="#1e1e1e" stroke-width="1.2"/>
<path class="t" d="M1285.4 1001.4H1272.9A5.9 5.4 0 0 0 1272.9 1012.2H1285.4" stroke="#1e1e1e" stroke-width="1.5"/>
<text transform="translate(1256.7 1003.3) scale(1.005 1)" font-size="10.2" text-anchor="middle">BATH</text>
<rect x="1238.3" y="1023.8" width="53.1" height="28.7" fill="none" stroke="#1e1e1e" stroke-width="1.2"/>
<polyline class="t" points="1238.3,1023.8 1291.4,1052.5" stroke="#1e1e1e" stroke-width="1.2"/>
<polyline class="t" points="1238.3,1052.5 1291.4,1023.8" stroke="#1e1e1e" stroke-width="1.2"/>
<circle cx="1286.9" cy="1038.1" r="1.8" fill="#777" stroke="#1e1e1e" stroke-width="1"/>
<polyline class="w" points="1346.8,941 1346.8,961.5" stroke-width="5.2"/>
<polyline class="w" points="1346.8,955 1346.8,962.5 1335.6,974.8" stroke-width="5.2"/>
<polygon points="1333.9,973.1 1316.7,991.1 1320.1,994.5 1337.3,976.5" fill="#fff" stroke="#1e1e1e" stroke-width="1"/>
<polygon points="1296.5,986.2 1309.8,997.3 1315.6,991.5 1320.2,995.5 1313.5,1001.6 1296.5,1001.6" fill="#000"/>
<path class="t" d="M1337 976.6L1339.4 1001.9A25.4 25.4 0 0 1 1318.7 994.2" stroke="#1e1e1e" stroke-width="1.2"/>
<rect x="1311.3" y="941.3" width="13.2" height="5.1" fill="none" stroke="#1e1e1e" stroke-width="1.2"/>
<path class="t" d="M1311.8 946.4V957.9A6.1 6.6 0 0 0 1324 957.9V946.4" stroke="#1e1e1e" stroke-width="1.5"/>
<polyline class="t" points="1349.4,959.7 1378.3,959.7" stroke="#1e1e1e" stroke-width="1.2"/>
<polygon points="1352.5,964.5 1376.1,964.5 1376.1,959.7 1352.5,959.7" fill="#fff" stroke="#1e1e1e" stroke-width="1"/>
<path class="t" d="M1352.5 964.5L1367.1 983A23.6 23.6 0 0 0 1376.1 964.5" stroke="#1e1e1e" stroke-width="1.2"/>
<rect x="1416.6" y="941" width="21.1" height="50.4" fill="none" stroke="#1e1e1e" stroke-width="1.2"/>
<circle cx="1427.7" cy="966.6" r="8.1" fill="none" stroke="#1e1e1e" stroke-width="1.5"/>
<circle cx="1432" cy="966.6" r="0.9" fill="#222" stroke="#1e1e1e" stroke-width="0"/>
<polyline class="t" points="1416.6,991.4 1378.6,1029.7 1378.6,1052.5" stroke="#1e1e1e" stroke-width="1.2"/>
<ellipse cx="1411.5" cy="1027" rx="28.2" ry="16" transform="rotate(-41 1411.5 1027)" fill="none" stroke="#222" stroke-width="1.6"/>
<polyline class="t" points="1395.3,1011.8 1398.3,1014.8" stroke="#1e1e1e" stroke-width="1.8"/>
<text transform="translate(1342.2 1014.7) scale(1.005 1)" font-size="10.2" text-anchor="middle">BATH</text>
<polyline class="w" points="1087.1,1055.1 1123.9,1055.1" stroke-width="5.2"/>
<polygon points="1123.9,1057.5 1198.5,1057.5 1198.5,1052.7 1123.9,1052.7" fill="#ececec" stroke="#585858" stroke-width="0.9"/>
<line x1="1123.9" y1="1055.1" x2="1198.5" y2="1055.1" stroke="#c4c4c4" stroke-width="1.6"/>
<polygon points="1147.8,1057.5 1149.8,1057.5 1149.8,1052.7 1147.8,1052.7" fill="#555"/>
<polygon points="1172.6,1057.5 1174.6,1057.5 1174.6,1052.7 1172.6,1052.7" fill="#555"/>
<polyline class="w" points="1198.5,1055.1 1252.3,1055.1" stroke-width="5.2"/>
<polygon points="1252.3,1057.5 1277.4,1057.5 1277.4,1052.7 1252.3,1052.7" fill="#ececec" stroke="#585858" stroke-width="0.9"/>
<line x1="1252.3" y1="1055.1" x2="1277.4" y2="1055.1" stroke="#c4c4c4" stroke-width="1.6"/>
<polyline class="w" points="1277.4,1055.1 1325,1055.1" stroke-width="5.2"/>
<polygon points="1325,1057.5 1350.3,1057.5 1350.3,1052.7 1325,1052.7" fill="#fff" stroke="#1e1e1e" stroke-width="1"/>
<polyline class="w" points="1350.3,1055.1 1442.9,1055.1" stroke-width="5.2"/>
<path class="t" d="M1325 1052.5L1341.7 1033.5A25.3 25.3 0 0 1 1350.3 1052.5" stroke="#1e1e1e" stroke-width="1.2"/>
<polyline class="w" points="1381.6,1055 1381.6,1094.5" stroke-width="5.2"/>
<polyline class="w" points="1291.4,1092 1306.1,1092" stroke-width="5.2"/>
<polygon points="1306.1,1094.4 1371.7,1094.4 1371.7,1089.6 1306.1,1089.6" fill="#ececec" stroke="#585858" stroke-width="0.9"/>
<line x1="1306.1" y1="1092" x2="1371.7" y2="1092" stroke="#c4c4c4" stroke-width="1.6"/>
<polygon points="1337.9,1094.4 1339.9,1094.4 1339.9,1089.6 1337.9,1089.6" fill="#555"/>
<polyline class="w" points="1371.7,1092 1384.2,1092" stroke-width="5.2"/>
<polyline class="t" points="1296.5,1057.7 1379,1089.4" stroke="#1e1e1e" stroke-width="1.2"/>
<polyline class="t" points="1296.5,1089.4 1379,1057.7" stroke="#1e1e1e" stroke-width="1.2"/>
<circle cx="1300.9" cy="1073.6" r="1.6" fill="#555" stroke="#1e1e1e" stroke-width="0.8"/>
<polygon points="1030.7,947.3 1040,947.3 1045.9,941.4 1054.4,949.5 1064.1,949.5 1085.4,927.8 1085.4,919.7 1076.9,911.7 1087.1,900.7 1092,900.7 1092,961.7 1051.5,961.7 1051.5,956.9 1030.7,956.9" fill="#000"/>
<polyline class="t" points="1040,947.3 1087.1,900.7" stroke="#1e1e1e" stroke-width="1.2"/>
<polygon points="1051.6,963.4 1051.6,1015.1 1056.4,1015.1 1056.4,963.4" fill="#fff" stroke="#1e1e1e" stroke-width="1"/>
<path class="t" d="M1056.6 963.7L1078.4 976.8A25.5 25.5 0 0 1 1056.6 989.2" stroke="#1e1e1e" stroke-width="1.2"/>
<path class="t" d="M1056.6 1014.6L1078 1000.8A25.4 25.4 0 0 0 1056.6 989.2" stroke="#1e1e1e" stroke-width="1.2"/>
<polyline class="w" points="948.5,1017.6 967.1,1017.6" stroke-width="5.2"/>
<polygon points="967.1,1020 1038.3,1020 1038.3,1015.2 967.1,1015.2" fill="#ececec" stroke="#585858" stroke-width="0.9"/>
<line x1="967.1" y1="1017.6" x2="1038.3" y2="1017.6" stroke="#c4c4c4" stroke-width="1.6"/>
<polygon points="984.8,1020 986.8,1020 986.8,1015.2 984.8,1015.2" fill="#555"/>
<polygon points="1019.1,1020 1021.1,1020 1021.1,1015.2 1019.1,1015.2" fill="#555"/>
<polyline class="w" points="1038.3,1017.6 1092,1017.6" stroke-width="5.2"/>
<polyline class="w" points="1089.5,1015.1 1089.5,1057.7" stroke-width="5.2"/>
<polyline class="t" points="1442.9,936.3 1606.2,936.3" stroke="#3a3a3a" stroke-width="1.1"/>
<polyline class="t" points="1442.9,1048.4 1606.2,1048.4" stroke="#3a3a3a" stroke-width="1.1"/>
<rect x="1443.9" y="936.4" width="15" height="15" fill="#fff" stroke="#444" stroke-width="1"/>
<circle cx="1451.4" cy="943.9" r="5" fill="#000" stroke="#1e1e1e" stroke-width="0"/>
<rect x="1591.5" y="936.4" width="15" height="15" fill="#fff" stroke="#444" stroke-width="1"/>
<circle cx="1599" cy="943.9" r="5" fill="#000" stroke="#1e1e1e" stroke-width="0"/>
<rect x="1443.9" y="1033.5" width="15" height="15" fill="#fff" stroke="#444" stroke-width="1"/>
<circle cx="1451.4" cy="1041" r="5" fill="#000" stroke="#1e1e1e" stroke-width="0"/>
<rect x="1591.5" y="1033.5" width="15" height="15" fill="#fff" stroke="#444" stroke-width="1"/>
<circle cx="1599" cy="1041" r="5" fill="#000" stroke="#1e1e1e" stroke-width="0"/>
<text transform="translate(1521.1 993.6) scale(1.005 1)" font-size="10.2" text-anchor="middle">PORCH</text>
<text transform="translate(1752.1 1060.5) scale(1.005 1)" font-size="10.2" text-anchor="middle">GARAGE</text>
<polyline class="w" points="1635.5,923.9 1608.8,923.9 1608.8,1175.7 1646,1175.7 1646,1193.7 1672.6,1193.7" stroke-width="5.2"/>
<polygon points="1672.6,1196.1 1714.5,1196.1 1714.5,1191.3 1672.6,1191.3" fill="#ececec" stroke="#585858" stroke-width="0.9"/>
<line x1="1672.6" y1="1193.7" x2="1714.5" y2="1193.7" stroke="#c4c4c4" stroke-width="1.6"/>
<polyline class="w" points="1714.5,1193.7 1786.4,1193.7" stroke-width="5.2"/>
<polygon points="1786.4,1196.1 1828.5,1196.1 1828.5,1191.3 1786.4,1191.3" fill="#ececec" stroke="#585858" stroke-width="0.9"/>
<line x1="1786.4" y1="1193.7" x2="1828.5" y2="1193.7" stroke="#c4c4c4" stroke-width="1.6"/>
<polyline class="w" points="1828.5,1193.7 1849.6,1193.7 1849.6,1175.7 1877.3,1175.7 1877.3,923.9 1856,923.9" stroke-width="5.2"/>
<polyline class="t" points="1635.5,923.7 1856,923.7" stroke="#b4b4b4" stroke-width="4.4"/>
<polyline class="t" points="1635.5,923.9 1856,923.9" stroke="#333" stroke-width="1.3"/>
<polyline class="w" points="921.5,740.5 933.5,752" stroke-width="5.2"/>
<polyline class="w" points="931.5,745 940.3,736.2" stroke-width="5.2"/>
<polygon points="942,737.9 955.3,724.6 951.9,721.2 938.6,734.5" fill="#ececec" stroke="#585858" stroke-width="0.9"/>
<line x1="940.3" y1="736.2" x2="953.6" y2="722.9" stroke="#c4c4c4" stroke-width="1.6"/>
<polygon points="955.3,724.6 991.7,689.3 988.3,685.9 951.9,721.2" fill="#fff" stroke="#1e1e1e" stroke-width="1"/>
<polygon points="991.5,689.5 1005.6,678.2 1002.6,674.4 988.5,685.7" fill="#ececec" stroke="#585858" stroke-width="0.9"/>
<line x1="990" y1="687.6" x2="1004.1" y2="676.3" stroke="#c4c4c4" stroke-width="1.6"/>
<path class="t" d="M952.5 721.1L946.7 696.9A24.9 24.9 0 0 1 969.9 703.3" stroke="#1e1e1e" stroke-width="1.2"/>
<path class="t" d="M989.3 686.9L964.9 679.9A25.4 25.4 0 0 0 969.9 703.3" stroke="#1e1e1e" stroke-width="1.2"/>
<text transform="translate(1003.3 721.1) scale(1.005 1)" font-size="10.2" text-anchor="middle">HALLWAY</text>
<path class="t" d="M987.2 776.8L1048.2 717.2A9 9 0 0 1 1061 730L1026.2 763.6Q1020.5 774 1031 774H1087.3" stroke="#2a2a2a" stroke-width="1.25"/>
<polyline class="t" points="994.9,781 1058.4,719.6" stroke="#1e1e1e" stroke-width="1.2"/>
<polyline class="t" points="995.6,783.1 1087.3,783.1" stroke="#1e1e1e" stroke-width="1.2"/>
<polyline class="t" points="1067,774 1067,791.5" stroke="#1e1e1e" stroke-width="1.2"/>
<rect x="1036.5" y="776.5" width="20.4" height="12.2" fill="none" stroke="#1e1e1e" stroke-width="1.5"/>
<circle cx="1046.8" cy="782.5" r="0.7" fill="#333" stroke="#1e1e1e" stroke-width="0"/>
<polyline class="w" points="1000,794.4 1087.3,794.4" stroke-width="5.2"/>
<polygon points="987.2,776 1003,791.7 1003,797 982,797 975.5,802 967.5,794.5 972.8,783.5 976,787" fill="#000"/>
<polyline class="w" points="696.2,749 719.5,749 735.3,737.4" stroke-width="5.2"/>
<path class="t" d="M736.6 739.6A175.9 175.9 0 0 1 917.0 739.9" stroke="#2a2a2a" stroke-width="0.85"/>
<path class="t" d="M735.8 738.3A177.5 177.5 0 0 1 917.8 738.5" stroke="#2a2a2a" stroke-width="0.85"/>
<path class="t" d="M735.0 736.9A179.1 179.1 0 0 1 918.6 737.2" stroke="#2a2a2a" stroke-width="0.85"/>
<path class="t" d="M734.2 735.5A180.7 180.7 0 0 1 919.5 735.8" stroke="#2a2a2a" stroke-width="0.85"/>
<polyline class="w" points="918.3,737.7 931.5,748.5" stroke-width="5.2"/>
<rect x="696.2" y="866.1" width="22.3" height="44.1" fill="url(#h2)" stroke="#333" stroke-width="1"/>
<rect x="705.8" y="876.1" width="12.7" height="24.1" fill="#fff" stroke="#1e1e1e" stroke-width="0.9"/>
<text transform="translate(824.9 900.3) scale(1.005 1)" font-size="10.2" text-anchor="middle">LIVING ROOM</text>
<rect x="923.2" y="839.8" width="10" height="10" fill="none" stroke="#1e1e1e" stroke-width="1"/>
<rect x="925.3" y="836.5" width="9" height="9" fill="none" stroke="#1e1e1e" stroke-width="1" transform="rotate(45 929.8 841)"/>
<circle cx="928.2" cy="842.1" r="4.3" fill="#000" stroke="#1e1e1e" stroke-width="0"/>
<rect x="923.2" y="895.1" width="10" height="10" fill="none" stroke="#1e1e1e" stroke-width="1"/>
<rect x="925.5" y="898.9" width="9" height="9" fill="none" stroke="#1e1e1e" stroke-width="1" transform="rotate(45 930 903.4)"/>
<circle cx="928.2" cy="902" r="4.3" fill="#000" stroke="#1e1e1e" stroke-width="0"/>
<rect x="977.5" y="947.3" width="10" height="10" fill="none" stroke="#1e1e1e" stroke-width="1"/>
<rect x="975.6" y="946.4" width="9" height="9" fill="none" stroke="#1e1e1e" stroke-width="1" transform="rotate(45 980.1 950.9)"/>
<circle cx="981.2" cy="951.5" r="4.3" fill="#000" stroke="#1e1e1e" stroke-width="0"/>
<polyline class="w" points="693.5,523.6 693.5,538.3" stroke-width="5.2"/>
<polygon points="691.1,538.3 691.1,588.1 695.9,588.1 695.9,538.3" fill="#ececec" stroke="#585858" stroke-width="0.9"/>
<line x1="693.5" y1="538.3" x2="693.5" y2="588.1" stroke="#c4c4c4" stroke-width="1.6"/>
<polygon points="691.1,562.2 691.1,564.2 695.9,564.2 695.9,562.2" fill="#555"/>
<polyline class="w" points="693.5,588.1 693.5,669.6" stroke-width="5.2"/>
<polygon points="691.1,669.6 691.1,725.7 695.9,725.7 695.9,669.6" fill="#fff" stroke="#1e1e1e" stroke-width="1"/>
<polyline class="w" points="693.5,725.7 693.5,968.3" stroke-width="5.2"/>
<path class="t" d="M696.2 669.6L720.1 684.2A28.1 28.1 0 0 1 696.2 697.7" stroke="#1e1e1e" stroke-width="1.2"/>
<path class="t" d="M696.2 725.7L719.9 710.7A28 28 0 0 0 696.2 697.7" stroke="#1e1e1e" stroke-width="1.2"/>
<polyline class="w" points="621.8,594.2 621.8,826.5" stroke-width="5.2"/>
<polygon points="619.1,826.5 619.1,873.2 623.9,873.2 623.9,826.5" fill="#fff" stroke="#1e1e1e" stroke-width="1"/>
<polyline class="w" points="621.6,873.2 621.6,899.7" stroke-width="5.2"/>
<polygon points="619.1,899.7 619.1,924.2 623.9,924.2 623.9,899.7" fill="#fff" stroke="#1e1e1e" stroke-width="1"/>
<polyline class="w" points="621.6,924.2 621.6,970.8" stroke-width="5.2"/>
<polygon points="619.1,970.8 619.1,1018.3 623.9,1018.3 623.9,970.8" fill="#fff" stroke="#1e1e1e" stroke-width="1"/>
<polyline class="w" points="621.5,1018.3 621.5,1025.3" stroke-width="5.2"/>
<path class="t" d="M618.8 826.7L598.7 838.3A23.1 23.1 0 0 0 618.8 849.9" stroke="#1e1e1e" stroke-width="1.2"/>
<path class="t" d="M618.8 873L598.9 861.1A23.1 23.1 0 0 1 618.8 849.9" stroke="#1e1e1e" stroke-width="1.2"/>
<path class="t" d="M618.8 899.7L600 915.4A24.5 24.5 0 0 0 618.8 924.2" stroke="#1e1e1e" stroke-width="1.2"/>
<path class="t" d="M618.8 971.7L598.7 983.3A23.1 23.1 0 0 0 618.8 994.9" stroke="#1e1e1e" stroke-width="1.2"/>
<path class="t" d="M618.8 1018L598.9 1006.1A23.1 23.1 0 0 1 618.8 994.9" stroke="#1e1e1e" stroke-width="1.2"/>
<polygon points="624.4,745.3 630.6,745.3 630.6,752.3 624.4,752.3" fill="#000"/>
<polygon points="685,745.3 691,745.3 691,752.3 685,752.3" fill="#000"/>
<polygon points="624.4,810.3 630.6,810.3 630.6,817.3 624.4,817.3" fill="#000"/>
<polygon points="685,810.3 691,810.3 691,817.3 685,817.3" fill="#000"/>
<polygon points="624.4,956.5 630.6,956.5 630.6,963.5 624.4,963.5" fill="#000"/>
<polygon points="685,956.5 691,956.5 691,963.5 685,963.5" fill="#000"/>
<text transform="translate(658.8 830.6) scale(1.005 1)" font-size="10.2" text-anchor="middle">HALLWAY</text>
<text transform="translate(656.9 591.5) scale(1.005 1)" font-size="10.2" text-anchor="middle">HALLWAY</text>
<polyline class="w" points="453.4,646.2 632,646.2" stroke-width="5.2"/>
<polygon points="632,648.6 682.8,648.6 682.8,643.8 632,643.8" fill="#fff" stroke="#1e1e1e" stroke-width="1"/>
<polyline class="w" points="682.8,646.2 696.1,646.2" stroke-width="5.2"/>
<path class="t" d="M632 643.6L644.9 621.7A25.4 25.4 0 0 1 657.4 643.6" stroke="#1e1e1e" stroke-width="1.2"/>
<path class="t" d="M682.8 643.6L669.9 621.7A25.4 25.4 0 0 0 657.4 643.6" stroke="#1e1e1e" stroke-width="1.2"/>
<polyline class="w" points="618.8,1022.6 633.3,1022.6" stroke-width="5.2"/>
<polygon points="633.3,1025 673.3,1025 673.3,1020.2 633.3,1020.2" fill="#ececec" stroke="#585858" stroke-width="0.9"/>
<line x1="633.3" y1="1022.6" x2="673.3" y2="1022.6" stroke="#c4c4c4" stroke-width="1.6"/>
<polyline class="w" points="673.3,1022.6 696.2,1022.6" stroke-width="5.2"/>
<polygon points="690.8,1017.5 696.2,1017.5 696.2,1025.6 690.8,1025.6" fill="#000"/>
<polygon points="691.2,1025.6 691.2,1050.3 696,1050.3 696,1025.6" fill="#ececec" stroke="#585858" stroke-width="0.9"/>
<line x1="693.6" y1="1025.6" x2="693.6" y2="1050.3" stroke="#c4c4c4" stroke-width="1.6"/>
<polyline class="w" points="691,1052.9 710.3,1052.9" stroke-width="5.2"/>
<polygon points="710.3,1055.3 741,1055.3 741,1050.5 710.3,1050.5" fill="#ececec" stroke="#585858" stroke-width="0.9"/>
<line x1="710.3" y1="1052.9" x2="741" y2="1052.9" stroke="#c4c4c4" stroke-width="1.6"/>
<polyline class="w" points="741,1052.9 756.2,1052.9" stroke-width="5.2"/>
<polyline class="w" points="753.6,1050.3 753.6,1078" stroke-width="5.2"/>
<polygon points="751.2,1078 751.2,1117.3 756,1117.3 756,1078" fill="#ececec" stroke="#585858" stroke-width="0.9"/>
<line x1="753.6" y1="1078" x2="753.6" y2="1117.3" stroke="#c4c4c4" stroke-width="1.6"/>
<polyline class="w" points="753.6,1117.3 753.6,1136.2" stroke-width="5.2"/>
<polyline class="w" points="751,1133.6 771,1133.6" stroke-width="5.2"/>
<polygon points="771,1136 788.3,1136 788.3,1131.2 771,1131.2" fill="#ececec" stroke="#585858" stroke-width="0.9"/>
<line x1="771" y1="1133.6" x2="788.3" y2="1133.6" stroke="#c4c4c4" stroke-width="1.6"/>
<polygon points="788.3,1136 853.2,1136 853.2,1131.2 788.3,1131.2" fill="#fff" stroke="#1e1e1e" stroke-width="1"/>
<polygon points="853.2,1136 871.9,1136 871.9,1131.2 853.2,1131.2" fill="#ececec" stroke="#585858" stroke-width="0.9"/>
<line x1="853.2" y1="1133.6" x2="871.9" y2="1133.6" stroke="#c4c4c4" stroke-width="1.6"/>
<polyline class="w" points="871.9,1133.6 894,1133.6" stroke-width="5.2"/>
<polyline class="w" points="891.4,1117.3 891.4,1136.2" stroke-width="5.2"/>
<polygon points="889,1078 889,1117.3 893.8,1117.3 893.8,1078" fill="#ececec" stroke="#585858" stroke-width="0.9"/>
<line x1="891.4" y1="1078" x2="891.4" y2="1117.3" stroke="#c4c4c4" stroke-width="1.6"/>
<polyline class="w" points="891.4,1046.6 891.4,1078" stroke-width="5.2"/>
<polyline class="w" points="888.8,1049.2 904.9,1049.2" stroke-width="5.2"/>
<polygon points="904.9,1051.6 935.4,1051.6 935.4,1046.8 904.9,1046.8" fill="#ececec" stroke="#585858" stroke-width="0.9"/>
<line x1="904.9" y1="1049.2" x2="935.4" y2="1049.2" stroke="#c4c4c4" stroke-width="1.6"/>
<polyline class="w" points="935.4,1049.2 953.8,1049.2" stroke-width="5.2"/>
<polyline class="w" points="951.2,1015.1 951.2,1051.8" stroke-width="5.2"/>
<path class="t" d="M789.7 1136.1L805.9 1162.9A31.3 31.3 0 0 0 821 1136.1" stroke="#1e1e1e" stroke-width="1.2"/>
<path class="t" d="M852.4 1136.1L836.4 1163.1A31.4 31.4 0 0 1 821 1136.1" stroke="#1e1e1e" stroke-width="1.2"/>
<polyline class="t" points="691,1055.4 691,1221.5 953.7,1221.5 953.7,1051.7" stroke="#1e1e1e" stroke-width="1.5"/>
<rect x="691.5" y="1122.2" width="15" height="15" fill="#fff" stroke="#1e1e1e" stroke-width="1.3"/>
<circle cx="699" cy="1129.7" r="4.7" fill="none" stroke="#1e1e1e" stroke-width="1.5"/>
<rect x="938.4" y="1122.2" width="15" height="15" fill="#fff" stroke="#1e1e1e" stroke-width="1.3"/>
<circle cx="945.9" cy="1129.7" r="4.7" fill="none" stroke="#1e1e1e" stroke-width="1.5"/>
<rect x="691.5" y="1206.7" width="15" height="15" fill="#fff" stroke="#1e1e1e" stroke-width="1.3"/>
<circle cx="699" cy="1214.2" r="4.7" fill="none" stroke="#1e1e1e" stroke-width="1.5"/>
<rect x="758.4" y="1206.7" width="15" height="15" fill="#fff" stroke="#1e1e1e" stroke-width="1.3"/>
<circle cx="765.9" cy="1214.2" r="4.7" fill="none" stroke="#1e1e1e" stroke-width="1.5"/>
<rect x="863.9" y="1206.7" width="15" height="15" fill="#fff" stroke="#1e1e1e" stroke-width="1.3"/>
<circle cx="871.4" cy="1214.2" r="4.7" fill="none" stroke="#1e1e1e" stroke-width="1.5"/>
<rect x="938.4" y="1206.7" width="15" height="15" fill="#fff" stroke="#1e1e1e" stroke-width="1.3"/>
<circle cx="945.9" cy="1214.2" r="4.7" fill="none" stroke="#1e1e1e" stroke-width="1.5"/>
<text transform="translate(818.9 1076.3) scale(1.005 1)" font-size="10.2" text-anchor="middle">FOYER</text>
<text transform="translate(823.6 1187) scale(1.005 1)" font-size="10.2" text-anchor="middle">ENTRY</text>
<polyline class="w" points="349.4,503.7 349.4,520.5" stroke-width="5.2"/>
<polygon points="347,425.4 347,503.7 351.8,503.7 351.8,425.4" fill="#ececec" stroke="#585858" stroke-width="0.9"/>
<line x1="349.4" y1="425.4" x2="349.4" y2="503.7" stroke="#c4c4c4" stroke-width="1.6"/>
<polygon points="347,463.5 347,465.5 351.8,465.5 351.8,463.5" fill="#555"/>
<polyline class="w" points="349.4,425.4 349.4,416.3 360.5,416.3" stroke-width="5.2"/>
<polygon points="360.5,418.7 442.9,418.7 442.9,413.9 360.5,413.9" fill="#ececec" stroke="#585858" stroke-width="0.9"/>
<line x1="360.5" y1="416.3" x2="442.9" y2="416.3" stroke="#c4c4c4" stroke-width="1.6"/>
<polygon points="400.7,418.7 402.7,418.7 402.7,413.9 400.7,413.9" fill="#555"/>
<polyline class="w" points="442.9,416.3 452,416.3 452,424.4" stroke-width="5.2"/>
<polygon points="449.6,424.4 449.6,461 454.4,461 454.4,424.4" fill="#ececec" stroke="#585858" stroke-width="0.9"/>
<line x1="452" y1="424.4" x2="452" y2="461" stroke="#c4c4c4" stroke-width="1.6"/>
<polyline class="w" points="452,461 452,481.3 456.1,481.3" stroke-width="5.2"/>
<polygon points="456.1,483.7 487.6,483.7 487.6,478.9 456.1,478.9" fill="#ececec" stroke="#585858" stroke-width="0.9"/>
<line x1="456.1" y1="481.3" x2="487.6" y2="481.3" stroke="#c4c4c4" stroke-width="1.6"/>
<polyline class="w" points="487.6,481.3 499.8,481.3" stroke-width="5.2"/>
<polygon points="499.8,483.7 531.3,483.7 531.3,478.9 499.8,478.9" fill="#ececec" stroke="#585858" stroke-width="0.9"/>
<line x1="499.8" y1="481.3" x2="531.3" y2="481.3" stroke="#c4c4c4" stroke-width="1.6"/>
<polyline class="w" points="531.3,481.3 543.5,481.3" stroke-width="5.2"/>
<polygon points="543.5,483.7 575,483.7 575,478.9 543.5,478.9" fill="#ececec" stroke="#585858" stroke-width="0.9"/>
<line x1="543.5" y1="481.3" x2="575" y2="481.3" stroke="#c4c4c4" stroke-width="1.6"/>
<polyline class="w" points="575,481.3 579.2,481.3 585.4,487.5" stroke-width="5.2"/>
<polygon points="583.7,489.2 616.1,521.6 619.5,518.2 587.1,485.8" fill="#ececec" stroke="#585858" stroke-width="0.9"/>
<line x1="585.4" y1="487.5" x2="617.8" y2="519.9" stroke="#c4c4c4" stroke-width="1.6"/>
<polyline class="w" points="617.8,519.9 623.8,526.1 639.1,526.1" stroke-width="5.2"/>
<polygon points="639.1,528.5 676.7,528.5 676.7,523.7 639.1,523.7" fill="#ececec" stroke="#585858" stroke-width="0.9"/>
<line x1="639.1" y1="526.1" x2="676.7" y2="526.1" stroke="#c4c4c4" stroke-width="1.6"/>
<polyline class="w" points="676.7,526.1 696.1,526.1" stroke-width="5.2"/>
<polyline class="w" points="621.8,524 621.8,540.7" stroke-width="5.2"/>
<text transform="translate(500 566.7) scale(1.005 1)" font-size="10.2" text-anchor="middle">MASTER BEDROOM 1</text>
<polyline class="t" points="347.2,507.9 286.6,507.9 286.6,603.9" stroke="#1e1e1e" stroke-width="1.2"/>
<rect x="286.9" y="507.3" width="15" height="15" fill="#fff" stroke="#1e1e1e" stroke-width="1.3"/>
<circle cx="294.4" cy="514.8" r="4.5" fill="none" stroke="#1e1e1e" stroke-width="1.5"/>
<rect x="286.9" y="588.6" width="15" height="15" fill="#fff" stroke="#1e1e1e" stroke-width="1.3"/>
<circle cx="294.4" cy="596.1" r="4.5" fill="none" stroke="#1e1e1e" stroke-width="1.5"/>
<text transform="translate(336.8 562.1) scale(1.005 1)" font-size="10.2" text-anchor="middle">PATIO</text>
<polyline class="w" points="346.8,518 393.3,518" stroke-width="5.2"/>
<polyline class="w" points="390.6,515.4 390.6,535.2" stroke-width="5.2"/>
<polygon points="388.2,535.2 388.2,586.3 393,586.3 393,535.2" fill="#fff" stroke="#1e1e1e" stroke-width="1"/>
<polyline class="w" points="390.6,586.3 390.6,648.8" stroke-width="5.2"/>
<path class="t" d="M388 535.8L366.5 548.1A24.8 24.8 0 0 0 388 560.6" stroke="#1e1e1e" stroke-width="1.2"/>
<path class="t" d="M388 585.4L366.5 573.1A24.8 24.8 0 0 1 388 560.6" stroke="#1e1e1e" stroke-width="1.2"/>
<polyline class="w" points="387.9,646.2 403.8,646.2" stroke-width="5.2"/>
<polyline class="w" points="140.2,607 152,607" stroke-width="5.2"/>
<polygon points="152,609.4 210.6,609.4 210.6,604.6 152,604.6" fill="#ececec" stroke="#585858" stroke-width="0.9"/>
<line x1="152" y1="607" x2="210.6" y2="607" stroke="#c4c4c4" stroke-width="1.6"/>
<polyline class="w" points="210.6,607 225.6,607" stroke-width="5.2"/>
<polygon points="225.6,609.4 239.4,609.4 239.4,604.6 225.6,604.6" fill="#ececec" stroke="#585858" stroke-width="0.9"/>
<line x1="225.6" y1="607" x2="239.4" y2="607" stroke="#c4c4c4" stroke-width="1.6"/>
<polyline class="w" points="239.4,607 245.1,607" stroke-width="5.2"/>
<polygon points="245.1,609.4 260.2,609.4 260.2,604.6 245.1,604.6" fill="#ececec" stroke="#585858" stroke-width="0.9"/>
<line x1="245.1" y1="607" x2="260.2" y2="607" stroke="#c4c4c4" stroke-width="1.6"/>
<polyline class="w" points="260.2,607 266.9,607" stroke-width="5.2"/>
<polygon points="266.9,609.4 281.1,609.4 281.1,604.6 266.9,604.6" fill="#ececec" stroke="#585858" stroke-width="0.9"/>
<line x1="266.9" y1="607" x2="281.1" y2="607" stroke="#c4c4c4" stroke-width="1.6"/>
<polyline class="w" points="281.1,607 304.9,607" stroke-width="5.2"/>
<polygon points="304.9,609.4 336,609.4 336,604.6 304.9,604.6" fill="#ececec" stroke="#585858" stroke-width="0.9"/>
<line x1="304.9" y1="607" x2="336" y2="607" stroke="#c4c4c4" stroke-width="1.6"/>
<polyline class="w" points="336,607 387.9,607" stroke-width="5.2"/>
<polyline class="w" points="142.8,604.4 142.8,630.4" stroke-width="5.2"/>
<polygon points="92.5,630.4 140.2,630.4 140.2,625.6 92.5,625.6" fill="#ececec" stroke="#585858" stroke-width="0.9"/>
<line x1="92.5" y1="628" x2="140.2" y2="628" stroke="#c4c4c4" stroke-width="1.6"/>
<polyline class="w" points="92.5,628 89,628 83.3,632.6" stroke-width="5.2"/>
<polygon points="81.8,630.7 46.1,659.7 49.1,663.5 84.8,634.5" fill="#ececec" stroke="#585858" stroke-width="0.9"/>
<line x1="83.3" y1="632.6" x2="47.6" y2="661.6" stroke="#c4c4c4" stroke-width="1.6"/>
<polyline class="w" points="47.6,661.6 42.6,665.8 42.6,675" stroke-width="5.2"/>
<polygon points="40.2,675 40.2,722.5 45,722.5 45,675" fill="#ececec" stroke="#585858" stroke-width="0.9"/>
<line x1="42.6" y1="675" x2="42.6" y2="722.5" stroke="#c4c4c4" stroke-width="1.6"/>
<polyline class="w" points="42.6,722.5 42.6,728.6 47.6,733.2" stroke-width="5.2"/>
<polygon points="46,735 80.8,767 84,763.4 49.2,731.4" fill="#ececec" stroke="#585858" stroke-width="0.9"/>
<line x1="47.6" y1="733.2" x2="82.4" y2="765.2" stroke="#c4c4c4" stroke-width="1.6"/>
<polyline class="w" points="82.4,765.2 88,770.3 93,770.3" stroke-width="5.2"/>
<polygon points="93,772.7 140.2,772.7 140.2,767.9 93,767.9" fill="#ececec" stroke="#585858" stroke-width="0.9"/>
<line x1="93" y1="770.3" x2="140.2" y2="770.3" stroke="#c4c4c4" stroke-width="1.6"/>
<polyline class="w" points="142.8,767.8 142.8,794.8" stroke-width="5.2"/>
<polyline class="w" points="140.2,792.3 148.8,792.3" stroke-width="5.2"/>
<polygon points="148.8,794.7 205.1,794.7 205.1,789.9 148.8,789.9" fill="#ececec" stroke="#585858" stroke-width="0.9"/>
<line x1="148.8" y1="792.3" x2="205.1" y2="792.3" stroke="#c4c4c4" stroke-width="1.6"/>
<polyline class="w" points="205.1,792.3 220.9,792.3" stroke-width="5.2"/>
<polygon points="220.9,794.7 236.2,794.7 236.2,789.9 220.9,789.9" fill="#ececec" stroke="#585858" stroke-width="0.9"/>
<line x1="220.9" y1="792.3" x2="236.2" y2="792.3" stroke="#c4c4c4" stroke-width="1.6"/>
<polyline class="w" points="236.2,792.3 241.3,792.3" stroke-width="5.2"/>
<polygon points="241.3,794.7 256.5,794.7 256.5,789.9 241.3,789.9" fill="#ececec" stroke="#585858" stroke-width="0.9"/>
<line x1="241.3" y1="792.3" x2="256.5" y2="792.3" stroke="#c4c4c4" stroke-width="1.6"/>
<polyline class="w" points="256.5,792.3 262.6,792.3" stroke-width="5.2"/>
<polygon points="262.6,794.7 278.8,794.7 278.8,789.9 262.6,789.9" fill="#ececec" stroke="#585858" stroke-width="0.9"/>
<line x1="262.6" y1="792.3" x2="278.8" y2="792.3" stroke="#c4c4c4" stroke-width="1.6"/>
<polyline class="w" points="278.8,792.3 306.7,792.3" stroke-width="5.2"/>
<polygon points="306.7,794.7 337.7,794.7 337.7,789.9 306.7,789.9" fill="#ececec" stroke="#585858" stroke-width="0.9"/>
<line x1="306.7" y1="792.3" x2="337.7" y2="792.3" stroke="#c4c4c4" stroke-width="1.6"/>
<polyline class="w" points="337.7,792.3 357.9,792.3" stroke-width="5.2"/>
<ellipse cx="108.9" cy="696.4" rx="32" ry="43.9" transform="rotate(0 108.9 696.4)" fill="none" stroke="#222" stroke-width="1.4"/>
<ellipse cx="108.9" cy="696.4" rx="27.1" ry="38.8" transform="rotate(0 108.9 696.4)" fill="none" stroke="#222" stroke-width="1.4"/>
<polyline class="t" points="145.5,630.4 145.5,641.5 165.4,658.8 165.4,740 145.5,755.6 145.5,768.7" stroke="#1e1e1e" stroke-width="1.2"/>
<polyline class="t" points="165.4,658.8 199.8,658.8" stroke="#1e1e1e" stroke-width="1.2"/>
<path class="t" d="M199.8 658.8L221.1 642.5A26.8 26.8 0 0 1 226.6 664.5Z" stroke="#2a2a2a" stroke-width="1.25"/>
<polyline class="t" points="220.7,609.6 220.7,642.5" stroke="#1e1e1e" stroke-width="1.2"/>
<polyline class="t" points="220.7,630.7 288.5,630.7" stroke="#1e1e1e" stroke-width="1.2"/>
<circle cx="254.7" cy="618.5" r="8.1" fill="none" stroke="#1e1e1e" stroke-width="1.5"/>
<circle cx="254.7" cy="622.5" r="0.9" fill="#222" stroke="#1e1e1e" stroke-width="0"/>
<polyline class="t" points="182,610.5 188,610.5" stroke="#1e1e1e" stroke-width="1.5"/>
<polyline class="t" points="185,610.5 185,614" stroke="#1e1e1e" stroke-width="1.5"/>
<text transform="translate(241.9 691.7) scale(1.005 1)" font-size="10.2" text-anchor="middle">MASTER BATH</text>
<polyline class="w" points="290.9,609.6 290.9,639.6 296.6,645" stroke-width="5.2"/>
<polygon points="295,646.7 309.9,660.7 313.1,657.3 298.2,643.3" fill="#fff" stroke="#1e1e1e" stroke-width="1"/>
<polyline class="w" points="311.5,659 314,661.3 355.3,661.3" stroke-width="5.2"/>
<path class="t" d="M296.1 640L320.2 636.9A24.3 24.3 0 0 1 313.5 657" stroke="#1e1e1e" stroke-width="1.2"/>
<rect x="347.2" y="629.3" width="5.1" height="12.8" fill="none" stroke="#1e1e1e" stroke-width="1.2"/>
<path class="t" d="M347.2 629.8H335.7A6.4 5.9 0 0 0 335.7 641.6H347.2" stroke="#1e1e1e" stroke-width="1.5"/>
<polyline class="w" points="355.3,604.4 355.3,670" stroke-width="5.2"/>
<polygon points="352.9,670 352.9,720.8 357.7,720.8 357.7,670" fill="#fff" stroke="#1e1e1e" stroke-width="1"/>
<polyline class="w" points="355.3,720.8 355.3,815.2" stroke-width="5.2"/>
<path class="t" d="M352.7 670.6L331.3 683.7A25.1 25.1 0 0 0 352.7 695.7" stroke="#1e1e1e" stroke-width="1.2"/>
<path class="t" d="M352.7 720.8L331.4 707.6A25.1 25.1 0 0 1 352.7 695.7" stroke="#1e1e1e" stroke-width="1.2"/>
<polyline class="w" points="355.3,731.4 309.5,731.4 304.2,736.2" stroke-width="5.2"/>
<polygon points="302.6,734.4 286.9,748.6 290.1,752.2 305.8,738" fill="#fff" stroke="#1e1e1e" stroke-width="1"/>
<polyline class="w" points="288.5,750.4 282.5,755.8 282.5,794.8" stroke-width="5.2"/>
<path class="t" d="M289.6 753.7L312.8 756.4A23.3 23.3 0 0 0 306.3 737.4" stroke="#1e1e1e" stroke-width="1.2"/>
<polyline class="t" points="145.5,768.7 279.8,768.7" stroke="#1e1e1e" stroke-width="1.2"/>
<polyline class="t" points="181.3,768.7 181.3,789.8" stroke="#1e1e1e" stroke-width="1.2"/>
<polyline class="t" points="214.8,768.7 214.8,789.8" stroke="#1e1e1e" stroke-width="1.2"/>
<circle cx="250" cy="779" r="8.1" fill="none" stroke="#1e1e1e" stroke-width="1.5"/>
<circle cx="250" cy="783" r="0.9" fill="#222" stroke="#1e1e1e" stroke-width="0"/>
<rect x="346.9" y="771.9" width="5.1" height="13" fill="none" stroke="#1e1e1e" stroke-width="1.2"/>
<path class="t" d="M346.9 772.4H335.5A6.5 6 0 0 0 335.5 784.4H346.9" stroke="#1e1e1e" stroke-width="1.5"/>
<circle cx="346.5" cy="750.4" r="4.5" fill="none" stroke="#1e1e1e" stroke-width="1"/>
<circle cx="346.5" cy="750.4" r="2" fill="none" stroke="#1e1e1e" stroke-width="0.9"/>
<polyline class="w" points="352.8,646.2 361.1,646.2" stroke-width="5.2"/>
<polygon points="361.1,648.6 386.6,648.6 386.6,643.8 361.1,643.8" fill="#fff" stroke="#1e1e1e" stroke-width="1"/>
<path class="t" d="M386.6 648.8L369.7 667.9A25.5 25.5 0 0 1 361.1 648.8" stroke="#1e1e1e" stroke-width="1.2"/>
<polyline class="w" points="352.8,728 372.8,728" stroke-width="5.2"/>
<polygon points="372.8,730.4 402.5,730.4 402.5,725.6 372.8,725.6" fill="#fff" stroke="#1e1e1e" stroke-width="1"/>
<path class="t" d="M402.5 730.6L382.5 752.6A29.7 29.7 0 0 1 372.8 730.6" stroke="#1e1e1e" stroke-width="1.2"/>
<polyline class="w" points="406.9,711.3 406.9,735 468.9,735" stroke-width="5.2"/>
<polyline class="w" points="457.5,733 457.5,815.2" stroke-width="5.2"/>
<polyline class="w" points="352.8,812.5 487.7,812.5" stroke-width="5.2"/>
<polyline class="t" points="362.7,730.8 362.7,810" stroke="#1e1e1e" stroke-width="1.2"/>
<polyline class="t" points="367.3,730.8 367.3,810" stroke="#1e1e1e" stroke-width="1.2"/>
<polyline class="t" points="446.3,737.8 446.3,810" stroke="#1e1e1e" stroke-width="1.2"/>
<polyline class="t" points="450.9,737.8 450.9,810" stroke="#1e1e1e" stroke-width="1.2"/>
<polyline class="t" points="367.3,800.6 446.3,800.6" stroke="#1e1e1e" stroke-width="1.2"/>
<polyline class="t" points="367.3,805.3 446.3,805.3" stroke="#1e1e1e" stroke-width="1.2"/>
<polyline class="t" points="404.4,742.2 446.3,742.2" stroke="#1e1e1e" stroke-width="1.2"/>
<polyline class="t" points="404.4,747.2 446.3,747.2" stroke="#1e1e1e" stroke-width="1.2"/>
<polyline class="t" points="404.4,737.8 404.4,747.2" stroke="#1e1e1e" stroke-width="1.2"/>
<rect x="409.8" y="711.3" width="52.9" height="21" fill="none" stroke="#1e1e1e" stroke-width="1.2"/>
<polyline class="t" points="409.8,721.4 440.3,721.4" stroke="#1e1e1e" stroke-width="1.2"/>
<rect x="440.3" y="715.2" width="21.3" height="14.8" fill="none" stroke="#1e1e1e" stroke-width="0.9"/>
<rect x="441.8" y="716.7" width="18.3" height="11.8" fill="none" stroke="#1e1e1e" stroke-width="1.3"/>
<circle cx="451" cy="722.5" r="0.8" fill="#222" stroke="#1e1e1e" stroke-width="0"/>
<polyline class="w" points="466.1,643.7 466.1,665.2" stroke-width="5.2"/>
<polygon points="463.7,665.2 463.7,693.8 468.5,693.8 468.5,665.2" fill="#fff" stroke="#1e1e1e" stroke-width="1"/>
<polyline class="w" points="466.1,693.8 466.1,744.8" stroke-width="5.2"/>
<path class="t" d="M468.9 665.6L490.2 683.3A27.7 27.7 0 0 1 468.9 693.3" stroke="#1e1e1e" stroke-width="1.2"/>
<polygon points="470.5,709.7 494.7,709.7 494.7,704.9 470.5,704.9" fill="#fff" stroke="#1e1e1e" stroke-width="1"/>
<polyline class="w" points="497.5,704.7 497.5,744.8" stroke-width="5.2"/>
<polyline class="t" points="470.5,704.7 477.2,694.4 482.5,704.7" stroke="#1e1e1e" stroke-width="1.2"/>
<polyline class="w" points="455.9,742.2 502.5,742.2" stroke-width="5.2"/>
<polygon points="455,732.4 468.9,732.4 468.9,744.8 455,744.8" fill="#000"/>
<polygon points="502.5,744.6 531.4,744.6 531.4,739.8 502.5,739.8" fill="#fff" stroke="#1e1e1e" stroke-width="1"/>
<polyline class="w" points="531.4,742.2 624.4,742.2" stroke-width="5.2"/>
<path class="t" d="M502.5 739.7L521.6 718A28.9 28.9 0 0 1 531.4 739.7" stroke="#1e1e1e" stroke-width="1.2"/>
<polyline class="w" points="485,744.8 485,757.3" stroke-width="5.2"/>
<polygon points="482.6,757.3 482.6,782.3 487.4,782.3 487.4,757.3" fill="#fff" stroke="#1e1e1e" stroke-width="1"/>
<polyline class="w" points="485,782.3 485,823" stroke-width="5.2"/>
<polygon points="482.6,823 482.6,878.3 487.4,878.3 487.4,823" fill="#ececec" stroke="#585858" stroke-width="0.9"/>
<line x1="485" y1="823" x2="485" y2="878.3" stroke="#c4c4c4" stroke-width="1.6"/>
<polygon points="482.6,849.6 482.6,851.6 487.4,851.6 487.4,849.6" fill="#555"/>
<polyline class="w" points="485,878.3 485,908.3" stroke-width="5.2"/>
<polygon points="482.6,908.3 482.6,925.8 487.4,925.8 487.4,908.3" fill="#ececec" stroke="#585858" stroke-width="0.9"/>
<line x1="485" y1="908.3" x2="485" y2="925.8" stroke="#c4c4c4" stroke-width="1.6"/>
<polyline class="w" points="485,925.8 485,953.1" stroke-width="5.2"/>
<path class="t" d="M487.7 757.8L506.9 773A24.5 24.5 0 0 1 487.7 782.3" stroke="#1e1e1e" stroke-width="1.2"/>
<polyline class="w" points="482.5,893.8 623.8,893.8" stroke-width="5.2"/>
<polygon points="526.7,896 532,896 532,901.7 526.7,901.7" fill="#000"/>
<polyline class="w" points="482.5,950.5 623.8,950.5" stroke-width="5.2"/>
<polygon points="527,928.3 532,928.3 532,948 527,948" fill="#000"/>
<text transform="translate(554 826.8) scale(1.005 1)" font-size="10.2" text-anchor="middle">BEDROOM 2</text>
<text transform="translate(555.8 916.7) scale(1.005 1)" font-size="10.2" text-anchor="middle">BATH</text>
<text transform="translate(528.3 1041.7) scale(1.005 1)" font-size="10.2" text-anchor="middle">LIBRARY</text>
<rect x="498.3" y="942.4" width="13.7" height="5.1" fill="none" stroke="#1e1e1e" stroke-width="1.2"/>
<path class="t" d="M498.8 942.4V931.1A6.3 6.8 0 0 1 511.5 931.1V942.4" stroke="#1e1e1e" stroke-width="1.5"/>
<path class="t" d="M542.5 948V931.7H554Q559 931 562 928Q570 923 577.5 923Q585 923 593 928Q596 931 601 931.7H611.7V948" stroke="#2a2a2a" stroke-width="1.25"/>
<circle cx="576.3" cy="935.3" r="8" fill="none" stroke="#1e1e1e" stroke-width="1.5"/>
<circle cx="576.3" cy="939.3" r="0.9" fill="#222" stroke="#1e1e1e" stroke-width="0"/>
<polyline class="w" points="485,950.5 424.2,1010 424.2,1017.5" stroke-width="5.2"/>
<polygon points="421.8,1017.5 421.8,1073.3 426.6,1073.3 426.6,1017.5" fill="#ececec" stroke="#585858" stroke-width="0.9"/>
<line x1="424.2" y1="1017.5" x2="424.2" y2="1073.3" stroke="#c4c4c4" stroke-width="1.6"/>
<polygon points="421.8,1035.1 421.8,1037.1 426.6,1037.1 426.6,1035.1" fill="#555"/>
<polygon points="421.8,1053.7 421.8,1055.7 426.6,1055.7 426.6,1053.7" fill="#555"/>
<polyline class="w" points="424.2,1073.3 424.2,1083.5 430,1089" stroke-width="5.2"/>
<polygon points="428.4,1090.7 470.1,1130.1 473.3,1126.7 431.6,1087.3" fill="#ececec" stroke="#585858" stroke-width="0.9"/>
<line x1="430" y1="1089" x2="471.7" y2="1128.4" stroke="#c4c4c4" stroke-width="1.6"/>
<polygon points="441.5,1103.2 443,1104.6 446.3,1101.1 444.8,1099.7" fill="#555"/>
<polygon points="455.4,1116.3 456.9,1117.7 460.2,1114.2 458.7,1112.8" fill="#555"/>
<polyline class="w" points="471.7,1128.4 476.7,1133.1 488.3,1133.1" stroke-width="5.2"/>
<polygon points="488.3,1135.5 545,1135.5 545,1130.7 488.3,1130.7" fill="#ececec" stroke="#585858" stroke-width="0.9"/>
<line x1="488.3" y1="1133.1" x2="545" y2="1133.1" stroke="#c4c4c4" stroke-width="1.6"/>
<polygon points="506.2,1135.5 508.2,1135.5 508.2,1130.7 506.2,1130.7" fill="#555"/>
<polygon points="525.1,1135.5 527.1,1135.5 527.1,1130.7 525.1,1130.7" fill="#555"/>
<polyline class="w" points="545,1133.1 560.3,1133.1 567.5,1125.6" stroke-width="5.2"/>
<polygon points="569.2,1127.3 610,1085 606.6,1081.6 565.8,1123.9" fill="#ececec" stroke="#585858" stroke-width="0.9"/>
<line x1="567.5" y1="1125.6" x2="608.3" y2="1083.3" stroke="#c4c4c4" stroke-width="1.6"/>
<polygon points="582.1,1113.9 583.5,1112.4 580.1,1109.1 578.7,1110.6" fill="#555"/>
<polygon points="595.7,1099.8 597.1,1098.3 593.7,1095 592.3,1096.5" fill="#555"/>
<polyline class="w" points="608.3,1083.3 621.5,1069.7 621.5,1064.2" stroke-width="5.2"/>
<polygon points="619.1,1032.5 619.1,1064.2 623.9,1064.2 623.9,1032.5" fill="#ececec" stroke="#585858" stroke-width="0.9"/>
<line x1="621.5" y1="1032.5" x2="621.5" y2="1064.2" stroke="#c4c4c4" stroke-width="1.6"/>
<polyline class="w" points="621.5,1018.3 621.5,1032.5" stroke-width="5.2"/>
</g>
</svg>
</body></html>
